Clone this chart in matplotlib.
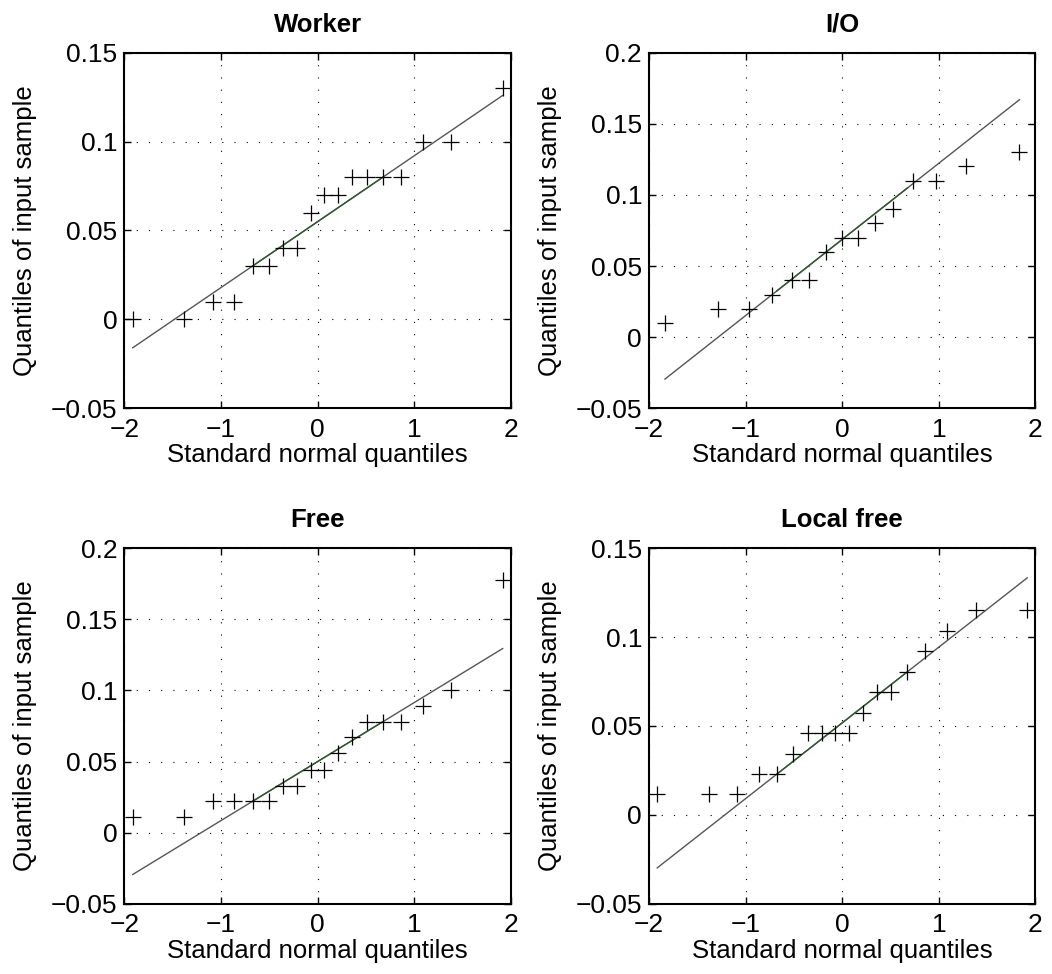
import numpy as np
import matplotlib
matplotlib.use("Agg")
import matplotlib.pyplot as plt
from statistics import NormalDist

plt.rcParams["font.family"] = ["Liberation Sans", "DejaVu Sans"]
plt.rcParams["axes.unicode_minus"] = True

# sorted samples for each panel
worker = [0, 0, 0.01, 0.01, 0.03, 0.03, 0.04, 0.04, 0.06, 0.07, 0.07,
          0.08, 0.08, 0.08, 0.08, 0.1, 0.1, 0.13]
io = [0.01, 0.02, 0.02, 0.03, 0.04, 0.04, 0.06, 0.07, 0.07, 0.08, 0.09,
      0.11, 0.11, 0.12, 0.13]
free = [0.011, 0.011, 0.022, 0.022, 0.022, 0.022, 0.033, 0.033, 0.044, 0.044,
        0.056, 0.067, 0.078, 0.078, 0.078, 0.089, 0.1, 0.178]
local_free = [0.0115, 0.0115, 0.0115, 0.023, 0.023, 0.0345, 0.046, 0.046, 0.046,
              0.046, 0.0575, 0.069, 0.069, 0.0805, 0.092, 0.1035, 0.115, 0.115]

titles = ["Worker", "I/O", "Free", "Local free"]
samples = [worker, io, free, local_free]
ylims = [(-0.05, 0.15), (-0.05, 0.2), (-0.05, 0.2), (-0.05, 0.15)]

# axes rectangles [left, bottom, width, height]
rects = [[0.1183, 0.5808, 0.3674, 0.3651],
         [0.6169, 0.5808, 0.3674, 0.3651],
         [0.1183, 0.0722, 0.3674, 0.3649],
         [0.6169, 0.0722, 0.3674, 0.3649]]


def prctile(v, p):
    # matlab style percentile: sorted point i sits at (i-0.5)/n
    v = np.sort(np.asarray(v, dtype=float))
    n = len(v)
    pos = np.arange(1, n + 1) - 0.5
    return np.interp(p / 100.0 * n, pos, v)


def fmt(t):
    t = round(t, 2)
    if abs(t) < 1e-9:
        return "0"
    s = "%g" % abs(t)
    return ("\u2212" + s) if t < 0 else s


fig = plt.figure(figsize=(10.52, 9.74), dpi=100)

for title, y, yl, r in zip(titles, samples, ylims, rects):
    ax = fig.add_axes(r)
    y = np.sort(np.array(y))
    n = len(y)
    x = np.array([NormalDist().inv_cdf((i - 0.5) / n) for i in range(1, n + 1)])

    # reference line through the quartiles
    q1x, q3x = prctile(x, 25), prctile(x, 75)
    q1y, q3y = prctile(y, 25), prctile(y, 75)
    slope = (q3y - q1y) / (q3x - q1x)
    xs = np.array([x.min(), x.max()])
    ax.plot(xs, q1y + slope * (xs - q1x), color="#555555", lw=1.0, zorder=2)
    ax.plot([q1x, q3x], [q1y, q3y], color="#2e5a2e", lw=1.0, zorder=3)

    ax.plot(x, y, "+", color="black", ms=12, mew=0.9, zorder=4)

    ax.set_xlim(-2, 2)
    ax.set_ylim(*yl)
    xt = [-2, -1, 0, 1, 2]
    yt = np.arange(yl[0], yl[1] + 0.001, 0.05)
    ax.set_xticks(xt)
    ax.set_xticklabels([fmt(t) for t in xt])
    ax.set_yticks(yt)
    ax.set_yticklabels([fmt(t) for t in yt])
    ax.grid(True, color="black", ls=(0, (1, 10)), lw=0.8)
    ax.tick_params(direction="in", top=True, right=True, length=5,
                   width=1, labelsize=19)
    ax.tick_params(axis="x", pad=7)
    ax.tick_params(axis="y", pad=5)
    for s in ax.spines.values():
        s.set_linewidth(1.5)
    ax.set_title(title, fontsize=18.5, fontweight="bold", pad=15)
    ax.set_xlabel("Standard normal quantiles", fontsize=18.5, labelpad=1)
    ax.set_ylabel("Quantiles of input sample", fontsize=18.5, labelpad=10)

fig.savefig("out.png", dpi=100)
